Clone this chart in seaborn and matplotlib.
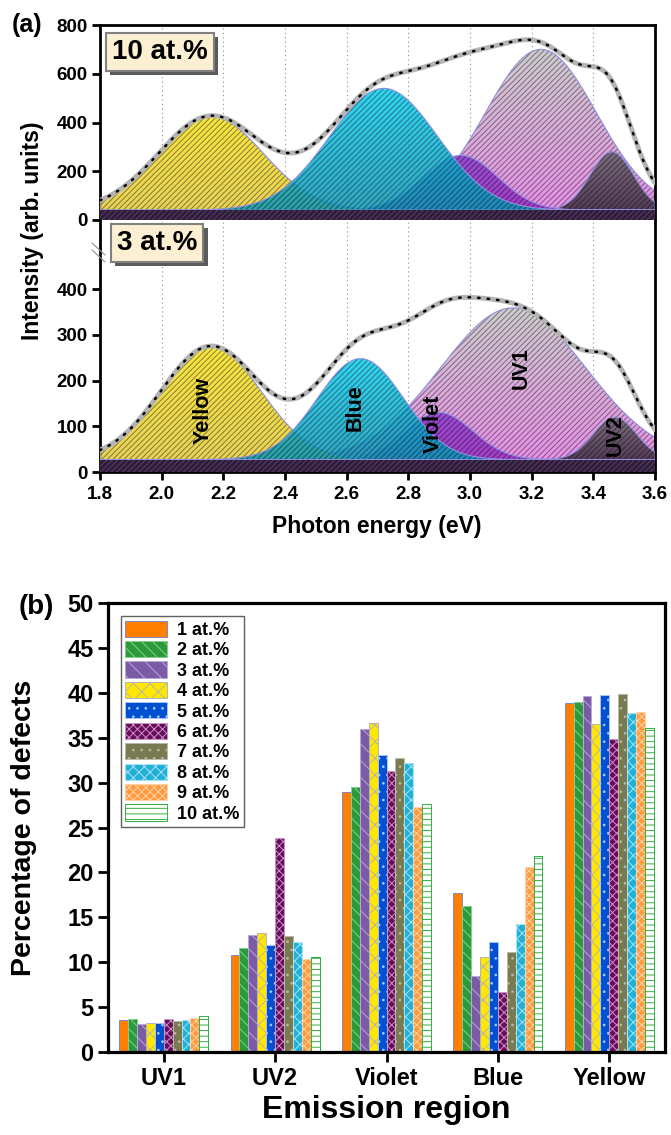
import numpy as np
import pandas as pd
import matplotlib
matplotlib.use('Agg')
import matplotlib.pyplot as plt
import seaborn as sns
from matplotlib.colors import LinearSegmentedColormap
from matplotlib.patches import Patch
from matplotlib.lines import Line2D
from matplotlib import patheffects

# ---------------- data ----------------
# (a) Gaussian fit components: centre (eV), height above baseline, width (eV)
peak_names = ['Yellow', 'Blue', 'Violet', 'UV1', 'UV2']
centers_10 = [2.16, 2.72, 2.97, 3.23, 3.46]
heights_10 = [385, 500, 225, 660, 240]
widths_10 = [0.17, 0.175, 0.12, 0.18, 0.07]
baseline_10 = 40

centers_3 = [2.16, 2.645, 2.90, 3.14, 3.47]
heights_3 = [248, 221, 103, 332, 93]
widths_3 = [0.162, 0.14, 0.11, 0.235, 0.07]
baseline_3 = 27

# (b) percentage of defects per emission region
regions = ['UV1', 'UV2', 'Violet', 'Blue', 'Yellow']
conc_labels = ['1 at.%', '2 at.%', '3 at.%', '4 at.%', '5 at.%',
               '6 at.%', '7 at.%', '8 at.%', '9 at.%', '10 at.%']
uv1 = [3.6, 3.7, 3.1, 3.2, 3.2, 3.7, 3.4, 3.6, 3.75, 4.0]
uv2 = [10.8, 11.6, 13.0, 13.3, 11.9, 23.8, 12.9, 12.3, 10.4, 10.6]
violet = [29.0, 29.5, 36.0, 36.6, 33.1, 31.3, 32.7, 32.2, 27.3, 27.6]
blue = [17.7, 16.3, 8.5, 10.6, 12.25, 6.7, 11.1, 14.25, 20.6, 21.8]
yellow = [38.9, 39.0, 39.6, 36.5, 39.7, 34.8, 39.9, 37.7, 37.9, 36.1]

# ---------------- style ----------------
sns.set_theme(style='white')
plt.rcParams['font.family'] = ['Liberation Sans', 'DejaVu Sans']
plt.rcParams['font.weight'] = 'bold'
plt.rcParams['axes.labelweight'] = 'bold'
plt.rcParams['hatch.linewidth'] = 0.7
for k in ['text.color', 'axes.labelcolor', 'xtick.color', 'ytick.color']:
    plt.rcParams[k] = 'black'

peak_colors = {
    'Yellow': ('#f8e21a', '#e6cc3a'),
    'Blue': ('#0ad0f2', '#0896b8'),
    'Violet': ('#8c3cd4', '#9a2ec6'),
    'UV1': ('#c6c4c6', '#e47ce4'),
    'UV2': ('#6c6270', '#3a2c3e'),
}
peak_z = {'UV1': 2, 'UV2': 2.5, 'Violet': 3, 'Yellow': 3.5, 'Blue': 4}

W, H = 671, 1135
fig = plt.figure(figsize=(W / 100, H / 100), dpi=100)

ax1 = fig.add_axes([100 / W, 1 - 220 / H, 555 / W, 195 / H])
ax2 = fig.add_axes([100 / W, 1 - 472 / H, 555 / W, 251 / H])
ax3 = fig.add_axes([108 / W, 1 - 1052 / H, 557 / W, 449 / H])

x = np.linspace(1.8, 3.6, 500)


def gauss(c, h, w):
    return h * np.exp(-(x - c) ** 2 / (2 * w ** 2))


def shaded_peak(ax, base, curve, c_top, c_bot, z):
    poly = ax.fill_between(x, base, curve, facecolor='none', edgecolor='#9090e0',
                           lw=0.8, zorder=z + 0.2)
    cmap = LinearSegmentedColormap.from_list('g', [c_bot, c_top])
    grad = np.linspace(0, 1, 200).reshape(-1, 1)
    im = ax.imshow(grad, cmap=cmap, origin='lower', aspect='auto',
                   extent=[x[0], x[-1], base, curve.max()], alpha=0.85, zorder=z)
    im.set_clip_path(poly.get_paths()[0], transform=ax.transData)
    ax.fill_between(x, base, curve, facecolor='none', edgecolor=(0.1, 0.1, 0.1, 0.5),
                    hatch='//////', lw=0, zorder=z + 0.1)


def draw_spectrum(ax, centers, heights, widths, base, ymax):
    comps = [gauss(c, h, w) for c, h, w in zip(centers, heights, widths)]
    for name, comp in zip(peak_names, comps):
        shaded_peak(ax, base, base + comp, *peak_colors[name], z=peak_z[name])
    ax.fill_between(x, 0, base, facecolor='#2e1c3a', edgecolor=(0.5, 0.4, 0.55, 0.5),
                    hatch='//////', lw=0, zorder=5)
    total = base + np.sum(comps, axis=0)
    sns.lineplot(x=x, y=total, ax=ax, color='#b4b4b4', lw=3.5, zorder=6)
    sns.lineplot(x=x, y=total, ax=ax, color='black', lw=1.8, ls=(0, (0.6, 3.2)),
                 dash_capstyle='round', zorder=7)
    for gx in np.arange(2.0, 3.41, 0.2):
        ax.axvline(gx, color='#8c8c8c', lw=0.8, ls=(0, (1, 3)), zorder=0.5)
    ax.set_xlim(1.8, 3.6)
    ax.set_ylim(0, ymax)
    ax.set_xlabel('')
    ax.set_ylabel('')
    for s in ax.spines.values():
        s.set_linewidth(2)
        s.set_color('black')


draw_spectrum(ax1, centers_10, heights_10, widths_10, baseline_10, 800)
draw_spectrum(ax2, centers_3, heights_3, widths_3, baseline_3, 549)

ax1.spines['bottom'].set_visible(False)
ax2.spines['top'].set_visible(False)
ax1.set_yticks([0, 200, 400, 600, 800])
ax2.set_yticks([0, 100, 200, 300, 400])
ax1.set_xticks([])
ax2.set_xticks(np.arange(1.8, 3.61, 0.2))
ax2.set_xticklabels([f'{v:.1f}' for v in np.arange(1.8, 3.61, 0.2)])
for ax in (ax1, ax2):
    ax.tick_params(axis='y', left=True, direction='out', length=6, width=2,
                   labelsize=13.5, pad=3)
ax2.tick_params(axis='x', bottom=True, direction='out', length=6, width=2,
                labelsize=13.5, pad=4)

# peak names in the 3 at.% panel
label_pos = {'Yellow': (2.135, 135), 'Blue': (2.627, 141), 'Violet': (2.88, 106),
             'UV1': (3.165, 228), 'UV2': (3.47, 80)}
for name, (px, py) in label_pos.items():
    ax2.text(px, py, name, rotation=90, ha='center', va='center', fontsize=15.5,
             fontweight='bold', color='black', zorder=8)

# concentration tags
for ax, txt, (tx, ty) in [(ax1, '10 at.%', (0.108, 0.862)), (ax2, '3 at.%', (0.103, 0.912))]:
    t = ax.text(tx, ty, txt, transform=ax.transAxes, ha='center', va='center',
                fontsize=20, fontweight='bold', zorder=9,
                bbox=dict(boxstyle='square,pad=0.22', facecolor='#fdf0d2',
                          edgecolor='#808080', lw=1.5))
    t.get_bbox_patch().set_path_effects([
        patheffects.SimplePatchShadow(offset=(3, -3), shadow_rgbFace='#5a5a5a', alpha=1),
        patheffects.Normal()])

# axis break marks on the left spine
for yy in (243, 250):
    fig.add_artist(Line2D([92 / W, 105 / W], [1 - yy / H, 1 - (yy + 12) / H],
                          color='#909090', lw=0.8))

fig.text(33 / W, 1 - 231 / H, 'Intensity (arb. units)', rotation=90, ha='center',
         va='center', fontsize=16.5, fontweight='bold')
fig.text(377 / W, 1 - 527 / H, 'Photon energy (eV)', ha='center', va='center',
         fontsize=16.5, fontweight='bold')
fig.text(27 / W, 1 - 25 / H, '(a)', ha='center', va='center', fontsize=18,
         fontweight='bold')

# ---------------- panel (b) ----------------
df = pd.DataFrame({
    'region': np.repeat(regions, len(conc_labels)),
    'conc': conc_labels * len(regions),
    'value': np.concatenate([uv1, uv2, violet, blue, yellow]),
})
bar_colors = ['#ff8000', '#2a9a3a', '#7b5aa6', '#ffe800', '#0050d0',
              '#6b0a5a', '#7a7a50', '#20b0d8', '#ff9a40', '#ffffff']
bar_hatch = ['', '\\\\\\', '\\\\', 'xx', '..', 'xxxx', '..', 'xxx', 'xxxx', '---']
bar_edge = ['#8484c8', '#86d090', '#b8a8d8', '#b4b4b4', '#a8c4ff',
            '#c894c8', '#b8b8a8', '#a8e4f4', '#ffd4a8', '#30b040']

sns.barplot(data=df, x='region', y='value', hue='conc', order=regions,
            hue_order=conc_labels, palette=bar_colors, saturation=1, width=0.8,
            ax=ax3, legend=False, errorbar=None)
for cont, h, ec in zip(ax3.containers, bar_hatch, bar_edge):
    for p in cont:
        p.set_hatch(h)
        p.set_edgecolor(ec)
        p.set_linewidth(0.7)

ax3.set_xlim(-0.5, 4.5)
ax3.set_ylim(0, 50)
ax3.set_yticks(np.arange(0, 51, 5))
ax3.tick_params(axis='both', direction='out', length=7, width=2, labelsize=17,
                left=True, bottom=True)
for lab in ax3.get_xticklabels() + ax3.get_yticklabels():
    lab.set_fontweight('bold')
for s in ax3.spines.values():
    s.set_linewidth(2.3)
    s.set_color('black')
ax3.set_ylabel('Percentage of defects', fontsize=20.5, fontweight='bold')
ax3.set_xlabel('Emission region', fontsize=23, fontweight='bold')
ax3.yaxis.set_label_coords(-0.128, 0.5)
ax3.xaxis.set_label_coords(0.5, -0.095)

handles = [Patch(facecolor=c, edgecolor=e, hatch=h, lw=0.7)
           for c, e, h in zip(bar_colors, bar_edge, bar_hatch)]
leg = ax3.legend(handles=handles, labels=conc_labels, loc='upper left',
                 bbox_to_anchor=(0.023, 0.971), borderaxespad=0, frameon=True,
                 fancybox=False, edgecolor='#606060', framealpha=1,
                 prop={'weight': 'bold', 'size': 13}, handlelength=2.3,
                 handleheight=1.0, labelspacing=0.12, handletextpad=0.55,
                 borderpad=0.25)
leg.get_frame().set_linewidth(1.0)

fig.text(36 / W, 1 - 607 / H, '(b)', ha='center', va='center', fontsize=20,
         fontweight='bold')

fig.savefig('out.png', dpi=100)
